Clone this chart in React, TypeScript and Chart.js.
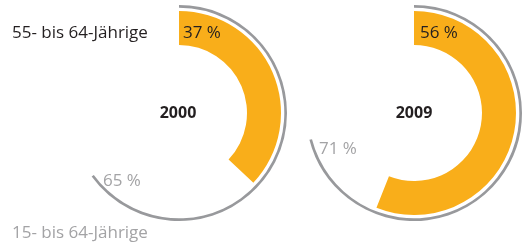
import React, { useEffect, useRef } from "react";
import { Chart, registerables } from "chart.js";

Chart.register(...registerables);

const years = ["2000", "2009"];
const share55to64 = [37, 56];
const share15to64 = [65, 71];
const seriesNames = ["55- bis 64-Jährige", "15- bis 64-Jährige"];

const ORANGE = "#f9ae1a";
const GRAY_ARC = "#98999c";
const GRAY_TEXT = "#a3a3a5";
const DARK = "#231f20";
const FONT = "'Open Sans', 'Noto Sans', sans-serif";

function Ring({ idx, left }: { idx: number; left: number }) {
  const ref = useRef<HTMLCanvasElement | null>(null);
  useEffect(() => {
    if (!ref.current) return;
    const chart = new Chart(ref.current, {
      type: "doughnut",
      data: {
        labels: ["value", "rest"],
        datasets: [
          {
            label: seriesNames[1],
            data: [share15to64[idx], 100 - share15to64[idx]],
            backgroundColor: [GRAY_ARC, "rgba(0,0,0,0)"],
            borderWidth: 0,
            weight: 2.7,
          },
          {
            label: "gap",
            data: [100],
            backgroundColor: ["rgba(0,0,0,0)"],
            borderWidth: 0,
            weight: 3.3,
          },
          {
            label: seriesNames[0],
            data: [share55to64[idx], 100 - share55to64[idx]],
            backgroundColor: [ORANGE, "rgba(0,0,0,0)"],
            borderWidth: 0,
            weight: 34,
          },
        ],
      },
      options: {
        responsive: false,
        animation: false,
        cutout: "62.96%",
        layout: { padding: 0 },
        plugins: {
          legend: { display: false },
          tooltip: { enabled: false },
        },
        events: [],
      },
    });
    return () => chart.destroy();
  }, [idx]);
  return (
    <canvas
      ref={ref}
      width={216}
      height={216}
      style={{ position: "absolute", left, top: 5, width: 216, height: 216 }}
    />
  );
}

function Label({
  text,
  x,
  y,
  color,
  size = 17,
  bold = false,
  center = false,
}: {
  text: string;
  x: number;
  y: number;
  color: string;
  size?: number;
  bold?: boolean;
  center?: boolean;
}) {
  return (
    <div
      style={{
        position: "absolute",
        left: x,
        top: y,
        transform: `translate(${center ? "-50%" : "0"}, -50%)`,
        color,
        fontFamily: FONT,
        fontSize: size,
        fontWeight: bold ? 700 : 400,
        lineHeight: 1,
        whiteSpace: "nowrap",
      }}
    >
      {text}
    </div>
  );
}

export default function App() {
  return (
    <div
      style={{
        position: "absolute",
        left: 0,
        top: 0,
        width: 523,
        height: 244,
        background: "#fff",
        overflow: "hidden",
      }}
    >
      <Ring idx={0} left={71} />
      <Ring idx={1} left={306} />
      <Label text={seriesNames[0]} x={12} y={31} color={DARK} />
      <Label text={seriesNames[1]} x={12} y={231} color={GRAY_TEXT} />
      <Label text={`${share55to64[0]} %`} x={183} y={31} color={DARK} />
      <Label text={`${share55to64[1]} %`} x={420} y={31} color={DARK} />
      <Label text={`${share15to64[0]} %`} x={103} y={179} color={GRAY_TEXT} />
      <Label text={`${share15to64[1]} %`} x={319} y={147} color={GRAY_TEXT} />
      <Label text={years[0]} x={178} y={112} color={DARK} bold center size={16} />
      <Label text={years[1]} x={414} y={112} color={DARK} bold center size={16} />
    </div>
  );
}
